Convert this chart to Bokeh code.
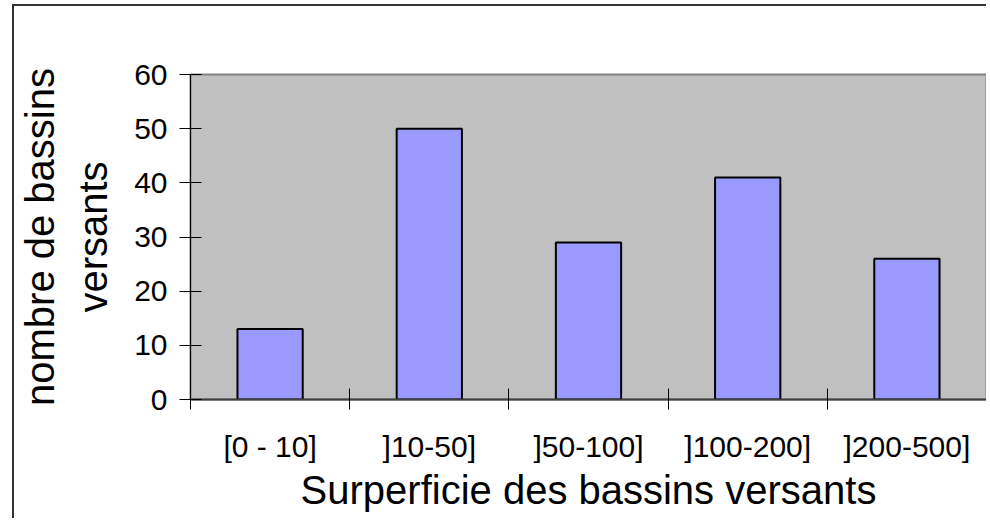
from bokeh.plotting import figure
from bokeh.models import Range1d, FixedTicker, ColumnDataSource
from bokeh.embed import file_html
from bokeh.resources import INLINE
import numpy as np

categories = ["[0 - 10]", "]10-50]", "]50-100]", "]100-200]", "]200-500]"]
counts = [13, 50, 29, 41, 26]
y_ticks = [0, 10, 20, 30, 40, 50, 60]

FONT = "Liberation Sans"

idx = np.arange(len(categories))
centers = idx + 0.5
boundaries = list(np.arange(len(categories) + 1).astype(float))

src = ColumnDataSource(dict(x=centers, top=counts, cat=categories))

p = figure(width=974, height=514, output_backend="svg", toolbar_location=None,
           x_range=Range1d(0, len(categories)), y_range=Range1d(0, 60),
           min_border_left=176, min_border_top=68, min_border_bottom=121,
           min_border_right=2)
p.margin = (4, 0, 0, 12)
p.styles = {"border-top": "2px solid #333333", "border-left": "2px solid #333333"}

p.background_fill_color = "#C0C0C0"
p.border_fill_color = "white"
p.outline_line_color = "#808080"
p.outline_line_width = 2
p.xgrid.visible = False
p.ygrid.visible = False

p.vbar(x="x", top="top", width=0.41, bottom=0, source=src,
       fill_color="#9999FF", line_color="black", line_width=2)

# x axis: labels at centers, ticks at boundaries (minor)
xa = p.xaxis[0]
xa.ticker = FixedTicker(ticks=list(centers), minor_ticks=boundaries)
xa.major_label_overrides = {float(c): cat for c, cat in zip(centers, categories)}
xa.major_tick_line_color = None
xa.major_tick_in = 0
xa.major_tick_out = 0
xa.minor_tick_line_color = "black"
xa.minor_tick_in = 11
xa.minor_tick_out = 10
xa.minor_tick_line_width = 1
xa.axis_line_color = "#404040"
xa.axis_line_width = 2
xa.major_label_text_font = FONT
xa.major_label_text_font_size = "30px"
xa.major_label_text_color = "black"
xa.major_label_standoff = 20
xa.axis_label = "Surperficie des bassins versants"
xa.axis_label_text_font = FONT
xa.axis_label_text_font_size = "40px"
xa.axis_label_text_font_style = "normal"
xa.axis_label_text_color = "black"
xa.axis_label_standoff = 2

ya = p.yaxis[0]
ya.ticker = FixedTicker(ticks=y_ticks)
ya.minor_tick_line_color = None
ya.major_tick_in = 11
ya.major_tick_out = 11
ya.major_tick_line_color = "black"
ya.axis_line_color = "black"
ya.axis_line_width = 1
ya.major_label_text_font = FONT
ya.major_label_text_font_size = "30px"
ya.major_label_text_color = "black"
ya.major_label_standoff = 12
ya.axis_label = "nombre de bassins\nversants"
ya.axis_label_text_font = FONT
ya.axis_label_text_font_size = "40px"
ya.axis_label_text_font_style = "normal"
ya.axis_label_text_color = "black"
ya.axis_label_standoff = 16

open("out.html", "w").write(file_html(p, INLINE))
